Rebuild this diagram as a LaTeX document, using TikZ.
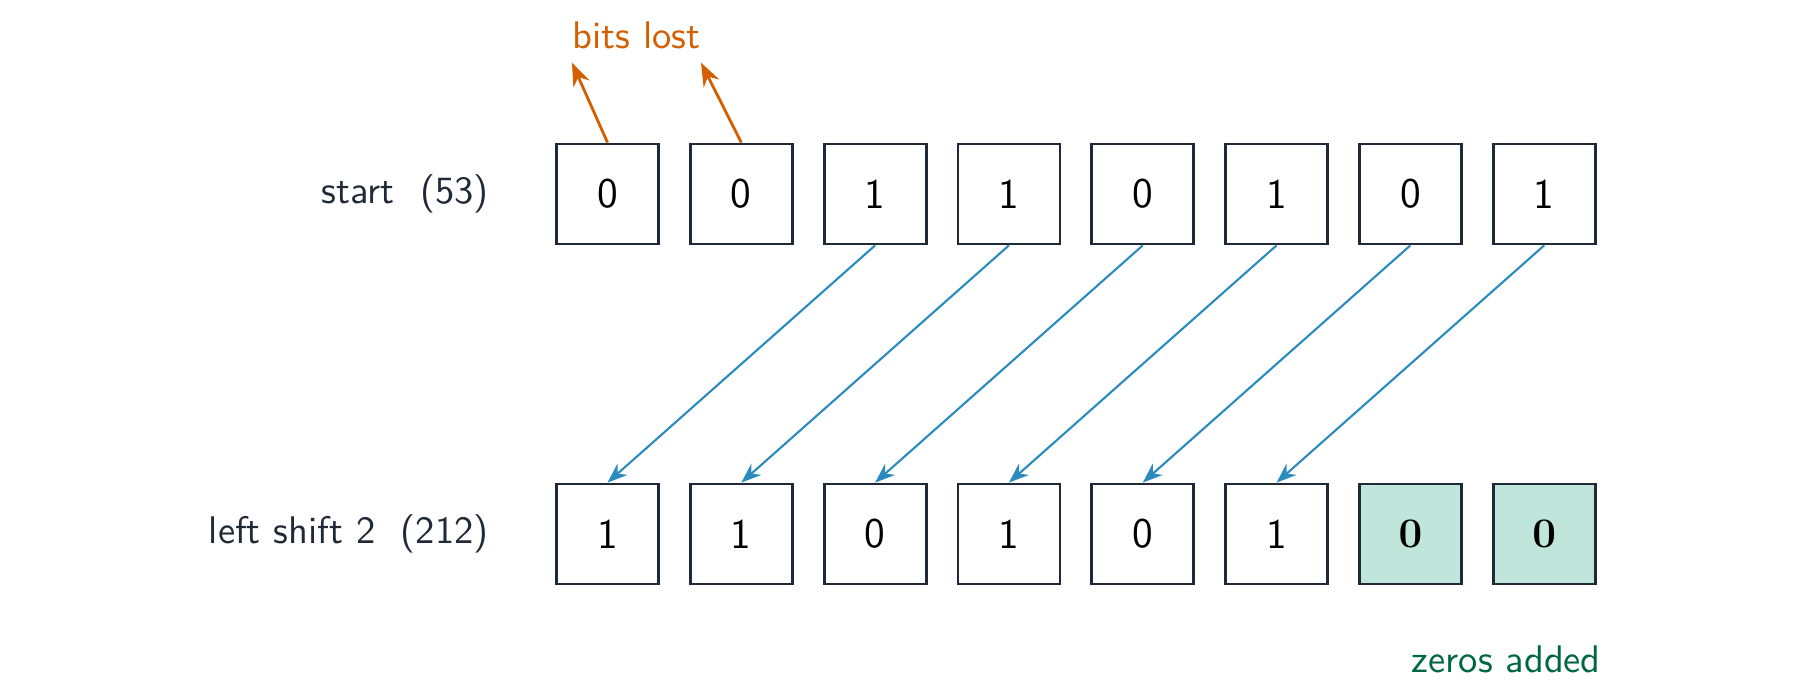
\documentclass[11pt,tikz,border=0pt]{standalone}
\usepackage{tikz}
\usetikzlibrary{arrows.meta,positioning}
\definecolor{boxline}{RGB}{31,41,55}
\definecolor{textdark}{RGB}{31,41,55}
\definecolor{lostorange}{RGB}{213,94,0}
\definecolor{shiftblue}{RGB}{43,138,190}
\definecolor{zerogreen}{RGB}{0,102,68}
\definecolor{zerofill}{RGB}{192,230,220}

\begin{document}
\begin{tikzpicture}[
        bit/.style={draw=boxline, thick, fill=white, minimum width=1.02cm,
          minimum height=1cm, font=\large\sffamily, inner sep=0pt},
        newbit/.style={bit, fill=zerofill},
        lbl/.style={font=\sffamily, text=textdark},
        moved/.style={-{Stealth}, semithick, draw=shiftblue},
        dropped/.style={-{Stealth}, thick, draw=lostorange},
        >=Stealth
      ]
        \useasboundingbox (0,0) rectangle (18,6.95);

        % start row
        \node[bit] (t0) at (6.075,5.01) {0};
        \node[bit,right=0.29cm of t0] (t1) {0};
        \node[bit,right=0.29cm of t1] (t2) {1};
        \node[bit,right=0.29cm of t2] (t3) {1};
        \node[bit,right=0.29cm of t3] (t4) {0};
        \node[bit,right=0.29cm of t4] (t5) {1};
        \node[bit,right=0.29cm of t5] (t6) {0};
        \node[bit,right=0.29cm of t6] (t7) {1};
        \node[lbl,left=0.53cm of t0] (startlbl) {start~~(53)};

        % shifted row
        \node[bit] (s0) at (6.075,1.61) {1};
        \node[bit,right=0.29cm of s0] (s1) {1};
        \node[bit,right=0.29cm of s1] (s2) {0};
        \node[bit,right=0.29cm of s2] (s3) {1};
        \node[bit,right=0.29cm of s3] (s4) {0};
        \node[bit,right=0.29cm of s4] (s5) {1};
        \node[newbit,right=0.29cm of s5] (s6) {$\mathbf{0}$};
        \node[newbit,right=0.29cm of s6] (s7) {$\mathbf{0}$};
        \node[lbl,left=0.53cm of s0] (shiftlbl) {left shift 2~~(212)};

        % notes
        \node[lbl, text=lostorange, inner xsep=0pt] (lost) at (6.365,6.594) {bits lost};
        \node[lbl, text=zerogreen, inner xsep=0pt,
          below left=0.47cm and -0.05cm of s7.south east] (zeros) {zeros added};

        % bits that fall off
        \draw[dropped] (t0.north) -- (lost.south west);
        \draw[dropped] (t1.north) -- (lost.south east);

        % bits moving two places left
        \draw[moved] (t2.south) -- (s0.north);
        \draw[moved] (t3.south) -- (s1.north);
        \draw[moved] (t4.south) -- (s2.north);
        \draw[moved] (t5.south) -- (s3.north);
        \draw[moved] (t6.south) -- (s4.north);
        \draw[moved] (t7.south) -- (s5.north);
      \end{tikzpicture}
\end{document}
